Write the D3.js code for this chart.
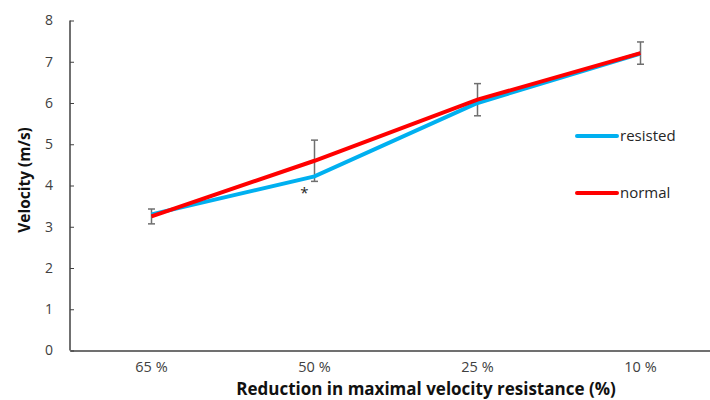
<!DOCTYPE html>
<html lang="en">
<head>
	<meta charset="utf-8">
	<title>Velocity</title>
	<script src="https://d3js.org/d3.v7.min.js"></script>
	<style type="text/css">
		body { margin: 0; background: #fff; }
		text { font-family: "Open Sans", "Noto Sans", sans-serif; }
	</style>
</head>
<body>
	<script type="text/javascript">
		// datos
		var categories = ["65 %", "50 %", "25 %", "10 %"];
		var resisted = [3.3, 4.22, 6.0, 7.2];
		var normal = [3.25, 4.6, 6.08, 7.21];
		var normalErr = [0.18, 0.5, 0.39, 0.27];
		var yTicks = [0, 1, 2, 3, 4, 5, 6, 7, 8];

		var w = 710, h = 400;
		var mLeft = 70, mRight = 722, mTop = 20.5, mBottom = 350.5;

		var svg = d3.select("body").append("svg")
			.attr("width", w)
			.attr("height", h);

		var x = d3.scaleBand().domain(categories).range([mLeft, mRight]);
		var y = d3.scaleLinear().domain([0, 8]).range([mBottom, mTop]);

		// eje Y
		var yAxis = svg.append("g")
			.attr("transform", "translate(" + mLeft + ",0)")
			.call(d3.axisRight(y).tickValues(yTicks).tickSize(4).tickFormat(d3.format("d")));
		yAxis.select(".domain").attr("stroke", "#404040").attr("stroke-width", 1.5)
			.attr("d", "M0," + y(8) + "V" + y(0));
		yAxis.selectAll(".tick line").attr("stroke", "#404040");
		yAxis.selectAll(".tick text")
			.attr("x", -17).attr("text-anchor", "end")
			.attr("fill", "#404040").style("font-size", "14px");

		// eje X
		var xAxis = svg.append("g")
			.attr("transform", "translate(0," + mBottom + ")")
			.call(d3.axisBottom(x).tickSize(0));
		xAxis.select(".domain").attr("stroke", "#404040").attr("stroke-width", 1.5);
		xAxis.selectAll(".tick text")
			.attr("y", 11).attr("fill", "#404040").style("font-size", "14.5px");

		// titulos de ejes
		svg.append("text")
			.attr("x", 426).attr("y", 395)
			.attr("text-anchor", "middle")
			.style("font-size", "17px").style("font-weight", "bold")
			.attr("fill", "#111")
			.text("Reduction in maximal velocity resistance (%)");
		svg.append("text")
			.attr("transform", "translate(30,180) rotate(-90)")
			.attr("text-anchor", "middle")
			.style("font-size", "15.5px").style("font-weight", "bold")
			.attr("fill", "#111")
			.text("Velocity (m/s)");

		var cx = function (i) { return x(categories[i]) + x.bandwidth() / 2; };

		// barras de error
		var eb = svg.selectAll("g.err").data(normal).enter().append("g")
			.attr("class", "err").attr("stroke", "#6f6f6f").attr("stroke-width", 1.5);
		eb.append("line")
			.attr("x1", function (d, i) { return cx(i); })
			.attr("x2", function (d, i) { return cx(i); })
			.attr("y1", function (d, i) { return y(d + normalErr[i]); })
			.attr("y2", function (d, i) { return y(d - normalErr[i]); });
		[1, -1].forEach(function (s) {
			eb.append("line")
				.attr("x1", function (d, i) { return cx(i) - 3.5; })
				.attr("x2", function (d, i) { return cx(i) + 3.5; })
				.attr("y1", function (d, i) { return y(d + s * normalErr[i]); })
				.attr("y2", function (d, i) { return y(d + s * normalErr[i]); });
		});

		var line = d3.line()
			.x(function (d, i) { return cx(i); })
			.y(function (d) { return y(d); });

		svg.append("path").datum(resisted)
			.attr("fill", "none").attr("stroke", "#00b0f0").attr("stroke-width", 4)
			.attr("d", line);
		svg.append("path").datum(normal)
			.attr("fill", "none").attr("stroke", "#ff0000").attr("stroke-width", 4)
			.attr("d", line);

		// asterisco
		svg.append("text")
			.attr("x", cx(1) - 10).attr("y", y(resisted[1]) + 22)
			.attr("text-anchor", "middle")
			.style("font-size", "15px").attr("fill", "#262626")
			.text("*");

		// leyenda
		var legend = [["resisted", "#00b0f0"], ["normal", "#ff0000"]];
		var lg = svg.selectAll("g.leg").data(legend).enter().append("g")
			.attr("class", "leg")
			.attr("transform", function (d, i) { return "translate(577," + (136 + i * 57) + ")"; });
		lg.append("line").attr("x1", 0).attr("x2", 40)
			.attr("stroke", function (d) { return d[1]; }).attr("stroke-width", 4)
			.attr("stroke-linecap", "round");
		lg.append("text").attr("x", 43).attr("y", 5)
			.style("font-size", "15px").attr("fill", "#262626")
			.text(function (d) { return d[0]; });
	</script>
</body>
</html>
